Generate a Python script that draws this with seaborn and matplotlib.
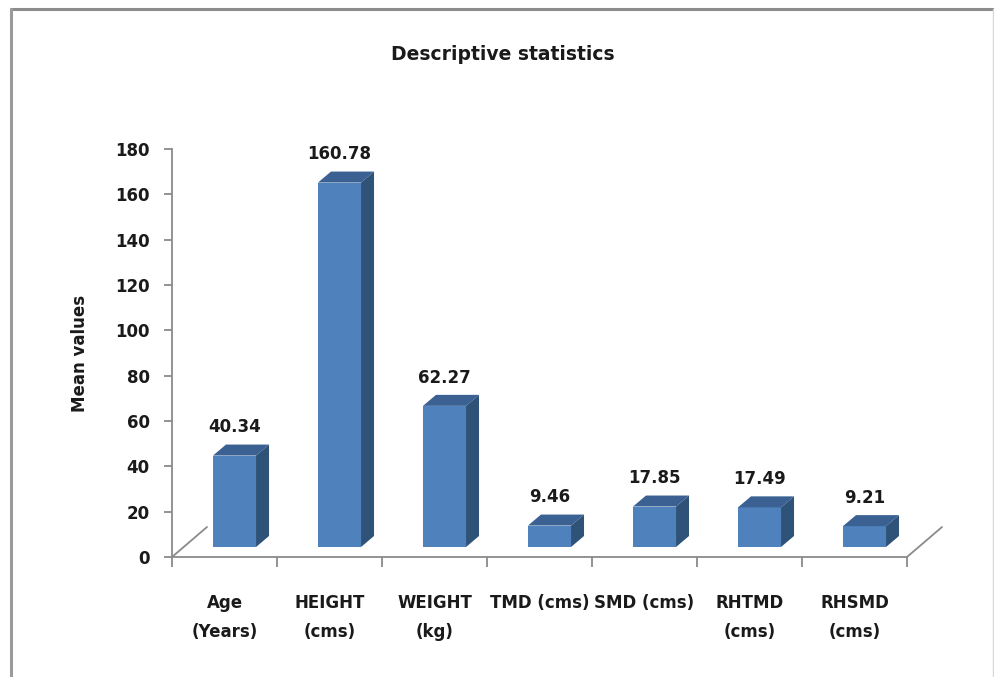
import matplotlib
matplotlib.use("Agg")
import matplotlib.pyplot as plt
from matplotlib.patches import Polygon
from matplotlib.lines import Line2D
import seaborn as sns

categories = ["Age\n(Years)", "HEIGHT\n(cms)", "WEIGHT\n(kg)", "TMD (cms)",
              "SMD (cms)", "RHTMD\n(cms)", "RHSMD\n(cms)"]
values = [40.34, 160.78, 62.27, 9.46, 17.85, 17.49, 9.21]
value_labels = ["40.34", "160.78", "62.27", "9.46", "17.85", "17.49", "9.21"]
yticks = [0, 20, 40, 60, 80, 100, 120, 140, 160, 180]

sns.set_theme(style="white")
plt.rcParams["font.family"] = ["DejaVu Sans"]

W, H = 995, 677
fig = plt.figure(figsize=(W / 100, H / 100), dpi=100)
fig.patch.set_facecolor("white")

def fx(px):
    return px / W

def fy(py):
    return (H - py) / H

# axes for the value axis / floor
x0, x1, ytop, ybot = 172, 907, 149, 557
ax2 = fig.add_axes([fx(x0), fy(ybot), fx(x1 - x0), (ybot - ytop) / H])
# axes for the bars (shifted back into the depth)
shx, shy = 10, 10
ax = fig.add_axes([fx(x0 + shx), fy(ybot - shy), fx(x1 - x0), (ybot - ytop) / H])

n = len(categories)
sns.barplot(x=list(range(n)), y=values, ax=ax, color="#4F81BD", saturation=1,
            width=0.41, linewidth=0, order=list(range(n)), native_scale=True)
ax.set_xlim(-0.5, n - 0.5)
ax.set_ylim(0, 180)
ax.axis("off")

px_per_cat = (x1 - x0) / n
px_per_unit = (ybot - ytop) / 180
ddx = 13 / px_per_cat
ddy = 11 / px_per_unit

for p, lab in zip(ax.patches, value_labels):
    xl = p.get_x()
    w = p.get_width()
    h = p.get_height()
    xr = xl + w
    top = Polygon([(xl, h), (xr, h), (xr + ddx, h + ddy), (xl + ddx, h + ddy)],
                  closed=True, facecolor="#3A6192", edgecolor="none", zorder=3)
    side = Polygon([(xr, 0), (xr + ddx, ddy), (xr + ddx, h + ddy), (xr, h)],
                   closed=True, facecolor="#2F5279", edgecolor="none", zorder=3)
    ax.add_patch(top)
    ax.add_patch(side)
    ax.annotate(lab, xy=(xl + w / 2, h + ddy), xytext=(0, 6),
                textcoords="offset points", ha="center", va="bottom",
                fontsize=12, fontweight="bold", color="#1a1a1a",
                annotation_clip=False)

# value axis
gray = "#8A8A8A"
ax2.set_facecolor("none")
ax2.set_xlim(-0.5, n - 0.5)
ax2.set_ylim(0, 180)
ax2.set_yticks(yticks)
ax2.set_yticklabels([str(t) for t in yticks], fontsize=12, fontweight="bold",
                    color="#1a1a1a")
ax2.set_xticks([i - 0.5 for i in range(n + 1)])
ax2.set_xticklabels([])
ax2.set_xticks(list(range(n)), minor=True)
ax2.set_xticklabels(categories, minor=True, fontsize=12, fontweight="bold",
                    color="#1a1a1a")
for lbl in ax2.get_xticklabels(minor=True):
    lbl.set_linespacing(1.75)
    lbl.set_verticalalignment("top")
ax2.tick_params(axis="x", which="major", direction="out", length=7, width=1.3,
                color=gray, bottom=True)
ax2.tick_params(axis="x", which="minor", length=0, pad=27)
ax2.tick_params(axis="y", which="major", direction="out", length=6, width=1.3,
                color=gray, left=True, pad=10)
for s in ["top", "right"]:
    ax2.spines[s].set_visible(False)
for s in ["left", "bottom"]:
    ax2.spines[s].set_color(gray)
    ax2.spines[s].set_linewidth(1.3)
ax2.grid(False)
ax2.set_ylabel("Mean values", fontsize=12, fontweight="bold", color="#1a1a1a",
               labelpad=19)

# floor depth lines
fdx = 35 / px_per_cat
fdy = 30 / px_per_unit
for xb in (-0.5, n - 0.5):
    ax2.add_line(Line2D([xb, xb + fdx], [0, fdy], color=gray, lw=1.3,
                        clip_on=False))

fig.suptitle("Descriptive statistics", x=fx(503), y=fy(55), va="center",
             fontsize=13.5, fontweight="bold", color="#1a1a1a")

# chart frame
fig.add_artist(Line2D([fx(11), fx(993)], [fy(9), fy(9)], color="#8C8C8C",
                      lw=2.2, transform=fig.transFigure))
fig.add_artist(Line2D([fx(11), fx(11)], [fy(9), fy(677)], color="#9A9A9A",
                      lw=2.2, transform=fig.transFigure))
fig.add_artist(Line2D([fx(993), fx(993)], [fy(9), fy(677)], color="#D8D8D8",
                      lw=1.0, transform=fig.transFigure))

fig.savefig("out.png", dpi=100, facecolor="white")
